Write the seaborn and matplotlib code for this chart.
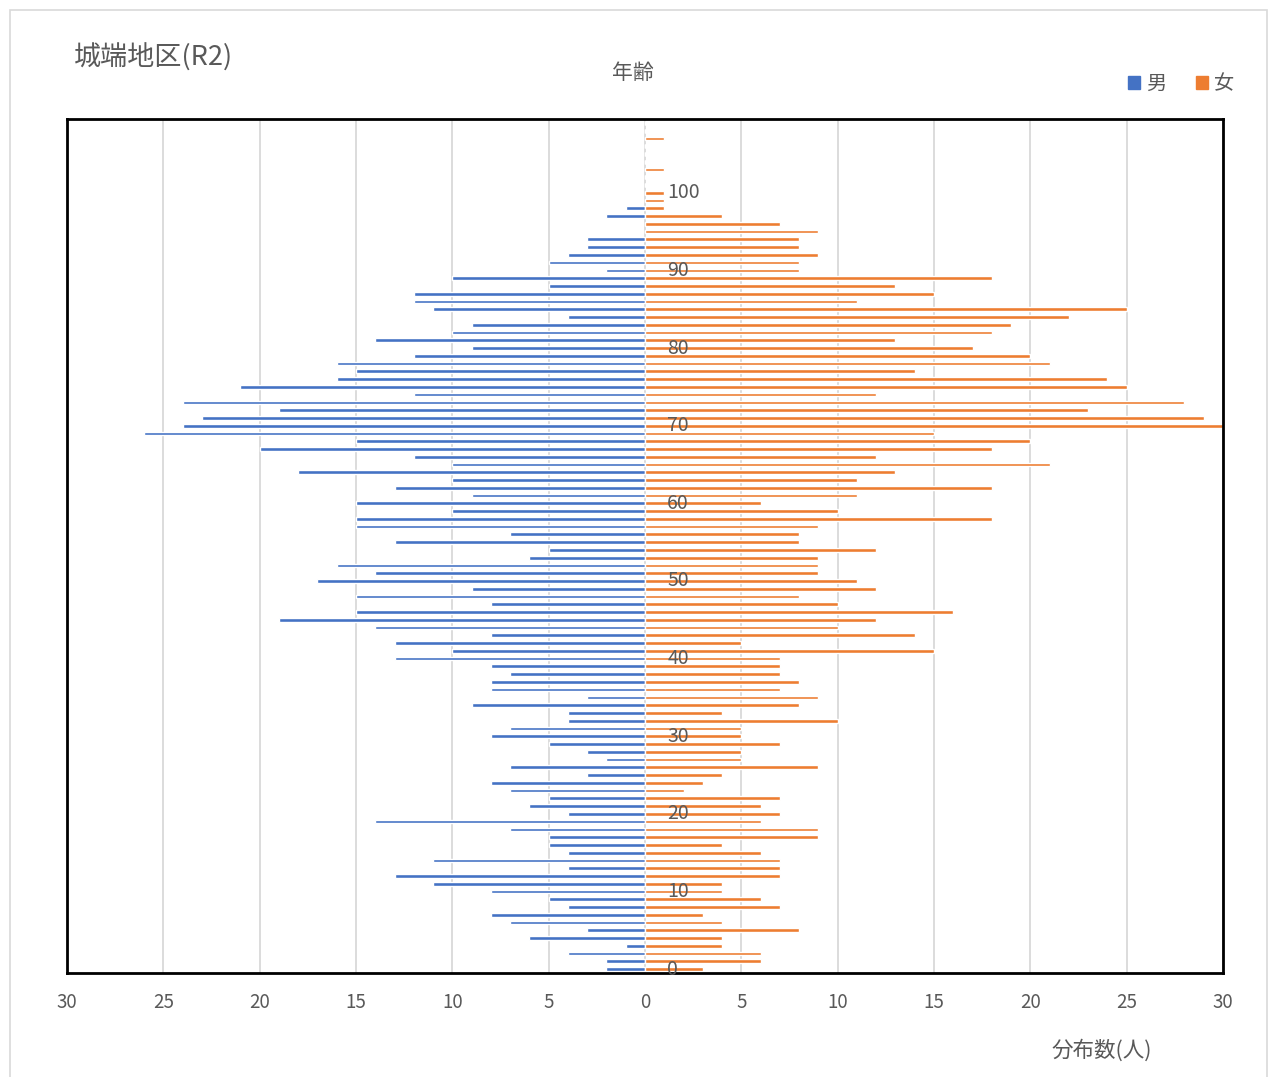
import numpy as np
import pandas as pd
import matplotlib
matplotlib.use('Agg')
from matplotlib import pyplot as plt
from matplotlib.patches import Patch, Rectangle
import seaborn as sns

sns.set_style('white')
plt.rcParams['font.family'] = ['Noto Sans CJK JP', 'DejaVu Sans']

# ages 0..109 (bottom to top)
ages = list(range(110))

# 男 (male) counts by age 0..109
male = [2, 2, 4, 1, 6, 3, 7, 8, 4, 5,
        8, 11, 13, 4, 11, 4, 5, 5, 7, 14,
        4, 6, 5, 7, 8, 3, 7, 2, 3, 5,
        8, 7, 4, 4, 9, 3, 8, 8, 7, 8,
        13, 10, 13, 8, 14, 19, 15, 8, 15, 9,
        17, 14, 16, 6, 5, 13, 7, 15, 15, 10,
        15, 9, 13, 10, 18, 10, 12, 20, 15, 26,
        24, 23, 19, 24, 12, 21, 16, 15, 16, 12,
        9, 14, 10, 9, 4, 11, 12, 12, 5, 10,
        2, 5, 4, 3, 3, 0, 0, 2, 1, 0,
        0, 0, 0, 0, 0, 0, 0, 0, 0, 0]

# 女 (female) counts by age 0..109
female = [3, 6, 6, 4, 4, 8, 4, 3, 7, 6,
          4, 4, 7, 7, 7, 6, 4, 9, 9, 6,
          7, 6, 7, 2, 3, 4, 9, 5, 5, 7,
          5, 5, 10, 4, 8, 9, 7, 8, 7, 7,
          7, 15, 5, 14, 10, 12, 16, 10, 8, 12,
          11, 9, 9, 9, 12, 8, 8, 9, 18, 10,
          6, 11, 18, 11, 13, 21, 12, 18, 20, 15,
          30, 29, 23, 28, 12, 25, 24, 14, 21, 20,
          17, 13, 18, 19, 22, 25, 11, 15, 13, 18,
          8, 8, 9, 8, 8, 9, 7, 4, 1, 1,
          1, 0, 0, 1, 0, 0, 0, 1, 0, 0]

age_labels = [0, 10, 20, 30, 40, 50, 60, 70, 80, 90, 100]
xticks = [-30, -25, -20, -15, -10, -5, 0, 5, 10, 15, 20, 25, 30]

df = pd.DataFrame({'age': ages, 'male': male, 'female': female})
df['male_neg'] = -df['male']

blue = '#4472C4'
orange = '#ED7D31'
gray = '#595959'

fig = plt.figure(figsize=(12.69, 10.77), dpi=100)
ax = fig.add_axes([67 / 1269, 1 - 973 / 1077, (1223 - 67) / 1269, (973 - 119) / 1077])

sns.barplot(data=df, x='male_neg', y='age', orient='h', color=blue,
            width=0.48, order=ages, ax=ax, saturation=1)
sns.barplot(data=df, x='female', y='age', orient='h', color=orange,
            width=0.48, order=ages, ax=ax, saturation=1)

ax.set_ylim(-0.5, 109.5)
ax.set_xlim(-30, 30)
ax.set_xticks(xticks)
ax.set_xticklabels([str(abs(v)) for v in xticks], fontsize=13.5, color=gray)
ax.tick_params(axis='x', length=0, pad=14)
ax.set_yticks([])
ax.set_xlabel('')
ax.set_ylabel('')
for v in xticks:
    ax.axvline(v, color='#d9d9d9', lw=1.3, zorder=0)
for s in ax.spines.values():
    s.set_color('black')
    s.set_linewidth(2)

# age labels inside the plot
for a in age_labels:
    ax.text(1.15, a, str(a), fontsize=14, color=gray, va='center', ha='left')

fig.text(74 / 1269, 1 - 58 / 1077, '城端地区(R2)', fontsize=19.5, color=gray,
         va='center', ha='left')
fig.text(633 / 1269, 1 - 73 / 1077, '年齢', fontsize=15, color=gray,
         va='center', ha='center')
fig.text(1102 / 1269, 1 - 1051 / 1077, '分布数(人)', fontsize=15.5, color=gray,
         va='center', ha='center')

handles = [Patch(color=blue, label='男'), Patch(color=orange, label='女')]
fig.legend(handles=handles, loc='center', bbox_to_anchor=(1181 / 1269, 1 - 84 / 1077),
           ncol=2, frameon=False, fontsize=14.5, handlelength=0.6, handleheight=0.6,
           handletextpad=0.3, columnspacing=1.5, labelcolor=gray)

fig.patches.append(Rectangle((10 / 1269, -0.01), 1257 / 1269, 1 - 10 / 1077 + 0.01,
                             transform=fig.transFigure, fill=False,
                             edgecolor='#d9d9d9', lw=1.2))

fig.savefig('out.png', dpi=100)
